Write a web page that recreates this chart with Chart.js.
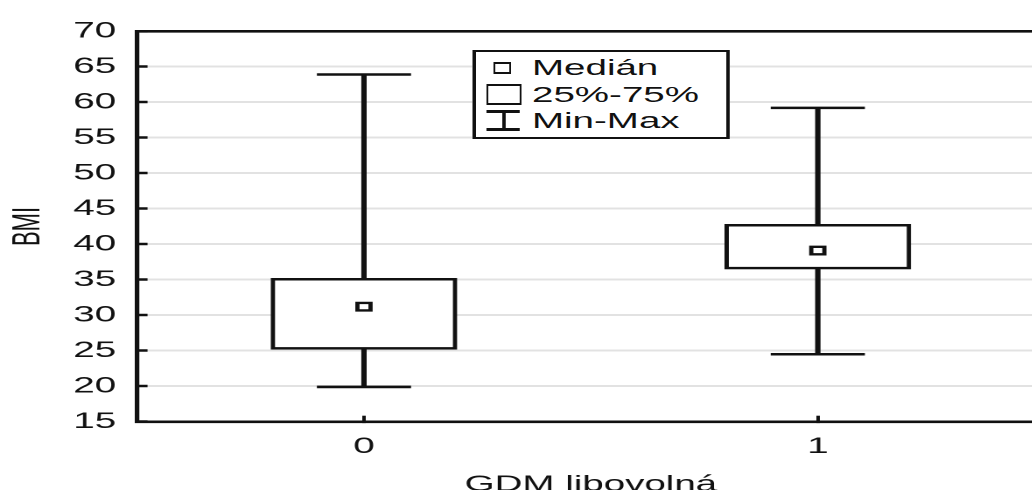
<!DOCTYPE html>
<html><head><meta charset="utf-8">
<script src="https://cdn.jsdelivr.net/npm/chart.js@4.4.1/dist/chart.umd.min.js"></script>
<style>
html,body{margin:0;padding:0;width:1032px;height:490px;overflow:hidden;background:#fff;}
#wrap{position:absolute;left:0;top:0;width:597px;height:510px;transform:scaleX(1.75);transform-origin:0 0;}
#c{position:absolute;left:0;top:0;}
.lg{position:absolute;box-sizing:border-box;}
.lt{position:absolute;font-family:'Liberation Sans',Arial,sans-serif;font-size:22px;line-height:26px;color:#111;white-space:nowrap;}
</style></head><body>
<div id="wrap">
<canvas id="c" width="597" height="510"></canvas>
<div class="lg" style="left:269.5px;top:50px;width:147.6px;height:89.3px;border-style:solid;border-color:#111;border-width:2.6px 2px;background:#fff"></div>
<div class="lg" style="left:281.9px;top:62.3px;width:10px;height:11.5px;border-style:solid;border-color:#111;border-width:2.3px 1.7px;background:#fff"></div>
<div class="lg" style="left:278.2px;top:84.3px;width:20px;height:21px;border-style:solid;border-color:#111;border-width:2.3px 1.7px;background:#fff"></div>
<div class="lg" style="left:278.2px;top:110px;width:19.2px;height:2.6px;background:#111"></div>
<div class="lg" style="left:286.8px;top:110px;width:1.8px;height:20px;background:#111"></div>
<div class="lg" style="left:278.2px;top:128px;width:19.2px;height:2.6px;background:#111"></div>
<div class="lt" style="left:304px;top:55.1px">Medián</div>
<div class="lt" style="left:304px;top:82.1px">25%-75%</div>
<div class="lt" style="left:304px;top:107.7px">Min-Max</div>
</div>
<script>
const categories = ['0', '1'];
const minVals    = [19.9, 24.5];
const q1Vals     = [25.2, 36.5];
const medianVals = [31.2, 39.1];
const q3Vals     = [35.2, 42.8];
const maxVals    = [63.9, 59.2];
const yMin = 15, yMax = 70, yStep = 5;
const xTitle = 'GDM libovolná';
const yTitle = 'BMI';

const FONT = {family: "'Liberation Sans', Arial, sans-serif", size: 22};
const INK = '#111';

new Chart(document.getElementById('c'), {
  type: 'bar',
  data: {
    labels: categories,
    datasets: [
      {type: 'bar', data: categories.map((_, i) => [minVals[i], maxVals[i]]),
       backgroundColor: INK, borderWidth: 0, barThickness: 2.4, grouped: false, order: 3},
      {type: 'bar', data: categories.map((_, i) => [q1Vals[i], q3Vals[i]]),
       backgroundColor: '#fff', borderColor: INK, borderWidth: 2.5, borderSkipped: false,
       barThickness: 106, grouped: false, order: 2},
      {type: 'line', data: maxVals, showLine: false, pointStyle: 'line', pointRadius: 26.9,
       pointBorderWidth: 2.6, pointBorderColor: INK, borderColor: INK, order: 1},
      {type: 'line', data: minVals, showLine: false, pointStyle: 'line', pointRadius: 26.9,
       pointBorderWidth: 2.6, pointBorderColor: INK, borderColor: INK, order: 1},
      {type: 'line', data: medianVals, showLine: false, pointStyle: 'rect', pointRadius: 5.3,
       pointBackgroundColor: '#fff', pointBorderColor: INK, pointBorderWidth: 2.4, borderColor: INK, order: 0}
    ]
  },
  options: {
    responsive: false,
    animation: false,
    devicePixelRatio: 2,
    events: [],
    layout: {autoPadding: false, padding: {top: 26, left: 0, right: 0, bottom: 0}},
    plugins: {legend: {display: false}, tooltip: {enabled: false}},
    scales: {
      x: {
        offset: true,
        grid: {display: true, offset: false, drawOnChartArea: false, drawTicks: true,
               tickLength: -6, tickColor: INK, tickWidth: 2},
        border: {display: true, color: INK, width: 2.6},
        ticks: {font: FONT, color: INK, padding: 18},
        title: {display: true, text: xTitle, font: FONT, color: INK, padding: {top: 0, bottom: 12}},
        afterFit(s) { s.height = 88.3; }
      },
      y: {
        min: yMin, max: yMax,
        ticks: {stepSize: yStep, font: FONT, color: INK, padding: 18},
        grid: {
          color: c => c.tick && c.tick.value === yMax ? INK : (c.tick && c.tick.value === yMin ? 'rgba(0,0,0,0)' : '#e2e2e2'),
          lineWidth: c => c.tick && c.tick.value === yMax ? 2.6 : 2,
          drawTicks: true, tickLength: -6, tickColor: INK, tickWidth: 2.5
        },
        border: {display: true, color: INK, width: 2.6},
        title: {display: true, text: yTitle, font: FONT, color: INK, padding: {top: 3, bottom: 0}},
        afterFit(s) { s.width = 78.3; }
      }
    }
  }
});
</script>
</body></html>
